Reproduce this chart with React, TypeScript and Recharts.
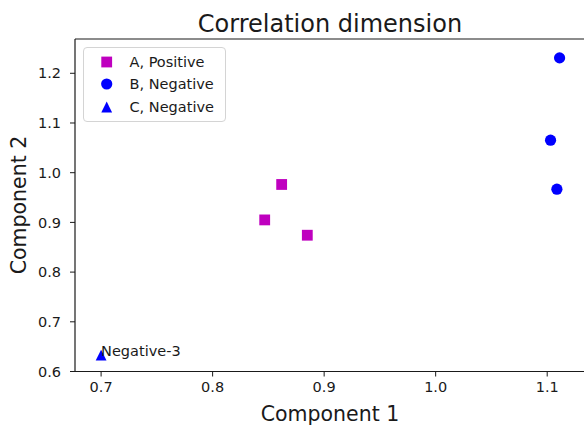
import React from 'react';
import { ScatterChart, Scatter, XAxis, YAxis, Legend, LabelList } from 'recharts';

const xTicks = [0.7, 0.8, 0.9, 1.0, 1.1];
const yTicks = [0.6, 0.7, 0.8, 0.9, 1.0, 1.1, 1.2];
const xDomain = [0.6766, 1.133];
const yDomain = [0.6, 1.269];

const groupA = [
  { x: 0.8467, y: 0.905 },
  { x: 0.8619, y: 0.9763 },
  { x: 0.8849, y: 0.8742 },
];
const groupB = [
  { x: 1.1111, y: 1.231 },
  { x: 1.103, y: 1.0654 },
  { x: 1.1087, y: 0.9668 },
];
const groupC = [{ x: 0.7, y: 0.633, label: 'Negative-3' }];

const FONT = '"DejaVu Sans", sans-serif';
const INK = '#1a1a1a';
const MAGENTA = '#bf00bf';
const BLUE = '#0000ff';

const marker = (type: string, cx: number, cy: number, color: string) => {
  const h = 5.4;
  if (type === 'square') {
    return <rect x={cx - h} y={cy - h} width={h * 2} height={h * 2} fill={color} />;
  }
  if (type === 'triangle') {
    return <polygon points={`${cx},${cy - h} ${cx - h},${cy + h} ${cx + h},${cy + h}`} fill={color} />;
  }
  return <circle cx={cx} cy={cy} r={5.6} fill={color} />;
};

const renderLegend = (props: any) => {
  const { payload } = props;
  return (
    <div
      style={{
        background: '#fff',
        border: '1px solid #d4d4d4',
        borderRadius: 4,
        padding: '3px 0 3px 0',
        width: 141,
        fontFamily: FONT,
        fontSize: 14.5,
        color: INK,
        boxSizing: 'content-box',
      }}
    >
      {(payload || []).map((entry: any) => (
        <div key={entry.value} style={{ display: 'flex', alignItems: 'center', height: 22.3 }}>
          <svg width={45.5} height={22} style={{ display: 'block' }}>
            {marker(entry.type, 22.7, 11, entry.color)}
          </svg>
          <span style={{ whiteSpace: 'nowrap' }}>{entry.value}</span>
        </div>
      ))}
    </div>
  );
};

const tickFmt = (v: number) => v.toFixed(1);

const App: React.FC = () => {
  return (
    <div style={{ position: 'absolute', left: 0, top: 0, width: 584, height: 425, background: '#fff' }}>
      <ScatterChart width={584} height={425} margin={{ top: 38, right: 0, left: 15, bottom: 13.5 }}>
        <XAxis
          type="number"
          dataKey="x"
          domain={xDomain}
          ticks={xTicks}
          tickFormatter={tickFmt}
          allowDataOverflow
          height={40}
          tickSize={5}
          tickMargin={5}
          axisLine={{ stroke: INK, strokeWidth: 1.2 }}
          tickLine={{ stroke: INK, strokeWidth: 1 }}
          tick={{ fill: INK, fontSize: 14.5, fontFamily: FONT }}
        />
        <XAxis
          xAxisId="top"
          orientation="top"
          type="number"
          dataKey="x"
          domain={xDomain}
          allowDataOverflow
          height={1}
          tick={false}
          tickLine={false}
          axisLine={{ stroke: INK, strokeWidth: 1.2 }}
        />
        <YAxis
          type="number"
          dataKey="y"
          domain={yDomain}
          ticks={yTicks}
          tickFormatter={tickFmt}
          allowDataOverflow
          width={60}
          tickSize={5}
          tickMargin={9}
          axisLine={{ stroke: INK, strokeWidth: 1.2 }}
          tickLine={{ stroke: INK, strokeWidth: 1 }}
          tick={{ fill: INK, fontSize: 14.5, fontFamily: FONT }}
        />
        <Legend
          layout="horizontal"
          align="center"
          verticalAlign="middle"
          content={renderLegend}
          wrapperStyle={{ left: 83, top: 47, width: 'auto', height: 'auto' }}
        />
        <Scatter
          name="A, Positive"
          data={groupA}
          fill={MAGENTA}
          legendType="square"
          isAnimationActive={false}
          shape={(p: any) => marker('square', p.cx, p.cy, MAGENTA)}
        />
        <Scatter
          name="B, Negative"
          data={groupB}
          fill={BLUE}
          legendType="circle"
          isAnimationActive={false}
          shape={(p: any) => marker('circle', p.cx, p.cy, BLUE)}
        />
        <Scatter
          name="C, Negative"
          data={groupC}
          fill={BLUE}
          legendType="triangle"
          isAnimationActive={false}
          shape={(p: any) => marker('triangle', p.cx, p.cy, BLUE)}
        >
          <LabelList
            dataKey="label"
            content={(p: any) => (
              <text x={p.x + p.width / 2} y={p.y + p.height / 2 + 0.5} fill={INK} fontSize={14.5} fontFamily={FONT} textAnchor="start">
                {p.value}
              </text>
            )}
          />
        </Scatter>
      </ScatterChart>
      <svg width={584} height={425} style={{ position: 'absolute', left: 0, top: 0, pointerEvents: 'none' }}>
        <text x={330} y={31.5} textAnchor="middle" fontSize={24} fontFamily={FONT} fill={INK}>
          Correlation dimension
        </text>
        <text x={330} y={421} textAnchor="middle" fontSize={20.5} fontFamily={FONT} fill={INK}>
          Component 1
        </text>
        <text x={26} y={205} textAnchor="middle" fontSize={20.5} fontFamily={FONT} fill={INK} transform="rotate(-90 26 205)">
          Component 2
        </text>
      </svg>
    </div>
  );
};

export default App;
